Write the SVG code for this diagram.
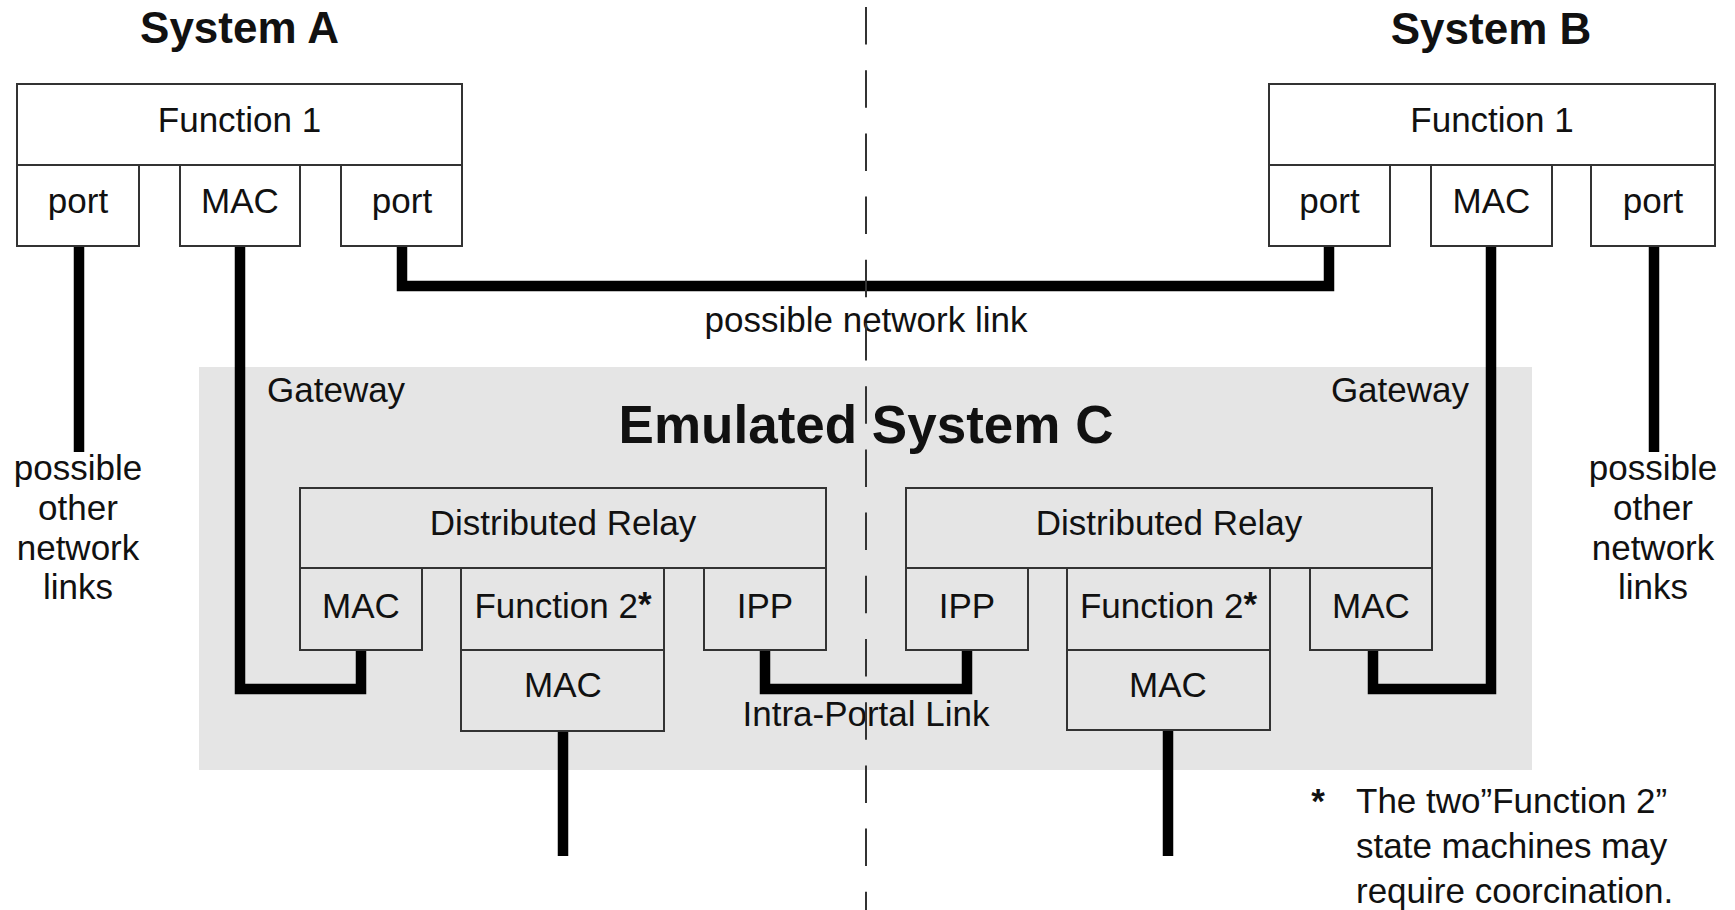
<svg xmlns="http://www.w3.org/2000/svg" width="1735" height="910" viewBox="0 0 1735 910">
<style>
.box{fill:none;stroke:#333;stroke-width:2}
.t{font-family:"Liberation Sans",Arial,sans-serif;font-size:35px;fill:#111;text-anchor:middle}
.ts{font-family:"Liberation Sans",Arial,sans-serif;font-size:35px;fill:#111}
.title{font-family:"Liberation Sans",Arial,sans-serif;font-weight:bold;font-size:44px;fill:#111;text-anchor:middle}
.link{fill:none;stroke:#000;stroke-width:10.5;stroke-linejoin:miter;stroke-linecap:butt}
.star{font-weight:bold}
</style>
<rect width="1735" height="910" fill="#fff"/>
<rect id="gateway-area" x="199" y="367" width="1333" height="403" fill="#e5e5e5"/>

<g id="connectors">
  <path class="link" d="M402,246 V286 H1329 V246"/>
  <path class="link" d="M79,246 V452"/>
  <path class="link" d="M1654,246 V452"/>
  <path class="link" d="M240,246 V689 H361 V650"/>
  <path class="link" d="M1491,246 V689 H1373 V650"/>
  <path class="link" d="M765,650 V689 H967 V650"/>
  <path class="link" d="M563,731 V856"/>
  <path class="link" d="M1168,730 V856"/>
</g>

<g id="systemA">
  <text class="title" x="239.5" y="43">System A</text>
  <g id="A-function1"><rect class="box" x="17" y="84" width="445" height="81"/><text class="t" x="239.5" y="132">Function 1</text></g>
  <g id="A-port1"><rect class="box" x="17" y="165" width="122" height="81"/><text class="t" x="78" y="213">port</text></g>
  <g id="A-mac"><rect class="box" x="180" y="165" width="120" height="81"/><text class="t" x="240" y="213">MAC</text></g>
  <g id="A-port2"><rect class="box" x="341" y="165" width="121" height="81"/><text class="t" x="402" y="213">port</text></g>
</g>

<g id="systemB">
  <text class="title" x="1491" y="44">System B</text>
  <g id="B-function1"><rect class="box" x="1269" y="84" width="446" height="81"/><text class="t" x="1492" y="132">Function 1</text></g>
  <g id="B-port1"><rect class="box" x="1269" y="165" width="121" height="81"/><text class="t" x="1329.5" y="213">port</text></g>
  <g id="B-mac"><rect class="box" x="1431" y="165" width="121" height="81"/><text class="t" x="1491.5" y="213">MAC</text></g>
  <g id="B-port2"><rect class="box" x="1591" y="165" width="124" height="81"/><text class="t" x="1653" y="213">port</text></g>
</g>

<g id="labels">
  <text class="t" x="866" y="332">possible network link</text>
  <text class="ts" x="267" y="402">Gateway</text>
  <text class="ts" x="1469" y="402" text-anchor="end">Gateway</text>
  <text class="title" x="866" y="443" style="font-size:53px">Emulated System C</text>
  <text class="t" x="866" y="726">Intra-Portal Link</text>
  <text class="t" x="78"><tspan x="78" y="480">possible</tspan><tspan x="78" y="520">other</tspan><tspan x="78" y="560">network</tspan><tspan x="78" y="599">links</tspan></text>
  <text class="t" x="1653"><tspan x="1653" y="480">possible</tspan><tspan x="1653" y="520">other</tspan><tspan x="1653" y="560">network</tspan><tspan x="1653" y="599">links</tspan></text>
  <text class="t star" x="1318" y="813">*</text>
  <text class="ts"><tspan x="1356" y="813">The two”Function 2”</tspan><tspan x="1356" y="858">state machines may</tspan><tspan x="1356" y="903">require coorcination.</tspan></text>
</g>

<g id="portalA">
  <g id="A-relay"><rect class="box" x="300" y="488" width="526" height="80"/><text class="t" x="563" y="535">Distributed Relay</text></g>
  <g id="A-gw-mac"><rect class="box" x="300" y="568" width="122" height="82"/><text class="t" x="361" y="618">MAC</text></g>
  <g id="A-function2"><rect class="box" x="461" y="568" width="203" height="82"/><text class="t" x="563" y="618">Function 2<tspan class="star" dy="-2">*</tspan></text></g>
  <g id="A-ipp"><rect class="box" x="704" y="568" width="122" height="82"/><text class="t" x="765" y="618">IPP</text></g>
  <g id="A-f2-mac"><rect class="box" x="461" y="650" width="203" height="81"/><text class="t" x="563" y="697">MAC</text></g>
</g>

<g id="portalB">
  <g id="B-relay"><rect class="box" x="906" y="488" width="526" height="80"/><text class="t" x="1169" y="535">Distributed Relay</text></g>
  <g id="B-ipp"><rect class="box" x="906" y="568" width="122" height="82"/><text class="t" x="967" y="618">IPP</text></g>
  <g id="B-function2"><rect class="box" x="1067" y="568" width="203" height="82"/><text class="t" x="1168.5" y="618">Function 2<tspan class="star" dy="-2">*</tspan></text></g>
  <g id="B-gw-mac"><rect class="box" x="1310" y="568" width="122" height="82"/><text class="t" x="1371" y="618">MAC</text></g>
  <g id="B-f2-mac"><rect class="box" x="1067" y="650" width="203" height="80"/><text class="t" x="1168" y="697">MAC</text></g>
</g>

<path id="divider" d="M866,7 V910" stroke="#333" stroke-width="2" stroke-dasharray="37.5 25.7" fill="none"/>
</svg>
